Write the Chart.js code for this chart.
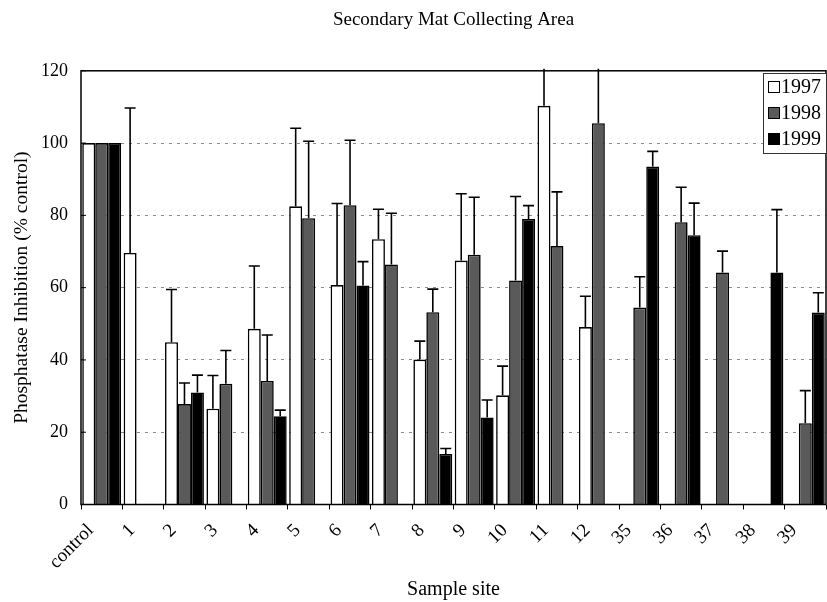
<!DOCTYPE html>
<html>
<head>
<meta charset="utf-8">
<title>Secondary Mat Collecting Area</title>
<script src="https://cdn.jsdelivr.net/npm/chart.js"></script>
<style>
  html, body { margin: 0; padding: 0; background: #fff; }
  #wrap { width: 827px; height: 602px; }
</style>
</head>
<body>
<div id="wrap"><canvas id="matChart" width="827" height="602"></canvas></div>
<script>
// sample sites and values (% of control)
const sites = ["control", "1", "2", "3", "4", "5", "6", "7", "8", "9", "10", "11", "12", "35", "36", "37", "38", "39"];
const years = ["1997", "1998", "1999"];

const v1997 = [100, 69.6, 44.9, 26.5, 48.6, 82.5, 60.7, 73.4, 40.1, 67.5, 30.2, 110.3, 49.1, null, null, null, null, null];
const e1997 = [0, 40.1, 14.6, 9.2, 17.4, 21.6, 22.6, 8.3, 5.1, 18.5, 8.1, 12, 8.5, 0, 0, 0, 0, 0];

const v1998 = [100, null, 27.8, 33.4, 34.2, 79.2, 82.8, 66.4, 53.2, 69.1, 62.0, 71.5, 105.5, 54.5, 78.1, 64.2, null, 22.5];
const e1998 = [0, 0, 5.8, 9.2, 12.7, 21.3, 18.0, 14.2, 6.4, 15.9, 23.2, 15.0, 16, 8.5, 9.7, 5.9, 0, 9.0];

const v1999 = [100, null, 31.0, null, 24.4, null, 60.6, null, 14.0, 24.1, 79.0, null, null, 93.5, 74.5, null, 64.2, 53.1];
const e1999 = [0, 0, 4.8, 0, 1.7, 0, 6.6, 0, 1.5, 4.8, 3.7, 0, 0, 4.2, 8.9, 0, 17.4, 5.5];

const yTicks = [0, 20, 40, 60, 80, 100, 120];

const serif = "'Liberation Serif', 'Times New Roman', serif";
const fills = ["#ffffff", "#5a5a5a", "#000000"];

// upward error bars with a cap
const errorBars = {
  id: "errorBars",
  afterDatasetsDraw(chart) {
    const ctx = chart.ctx;
    const area = chart.chartArea;
    const y = chart.scales.y;
    ctx.save();
    ctx.beginPath();
    ctx.rect(area.left, area.top - 2, area.right - area.left, area.bottom - area.top + 2);
    ctx.clip();
    ctx.strokeStyle = "#000";
    ctx.lineWidth = 1.6;
    chart.data.datasets.forEach((ds, i) => {
      const meta = chart.getDatasetMeta(i);
      meta.data.forEach((bar, j) => {
        const val = ds.data[j];
        const err = ds.errors[j];
        if (val == null || !err) return;
        const top = y.getPixelForValue(val + err);
        ctx.beginPath();
        ctx.moveTo(bar.x, bar.y);
        ctx.lineTo(bar.x, top);
        ctx.moveTo(bar.x - 5.5, top);
        ctx.lineTo(bar.x + 5.5, top);
        ctx.stroke();
      });
    });
    ctx.restore();
  }
};

// plot frame, small inner ticks on y, legend box
const frameAndLegend = {
  id: "frameAndLegend",
  afterDraw(chart) {
    const ctx = chart.ctx;
    const a = chart.chartArea;
    const y = chart.scales.y;
    ctx.save();
    ctx.strokeStyle = "#000";
    ctx.lineWidth = 1.5;
    ctx.strokeRect(a.left, a.top, a.right - a.left, a.bottom - a.top);
    ctx.lineWidth = 1;
    yTicks.forEach(t => {
      const py = y.getPixelForValue(t);
      ctx.beginPath();
      ctx.moveTo(a.left, py);
      ctx.lineTo(a.left + 5, py);
      ctx.stroke();
    });

    // legend
    const lx = 763, ly = 73, lw = 63, lh = 80;
    ctx.fillStyle = "#fff";
    ctx.fillRect(lx, ly, lw, lh);
    ctx.strokeStyle = "#333";
    ctx.lineWidth = 1;
    ctx.strokeRect(lx + 0.5, ly + 0.5, lw, lh);
    ctx.font = "20px " + serif;
    ctx.textBaseline = "middle";
    chart.data.datasets.forEach((ds, i) => {
      const cy = ly + 14 + i * 26;
      ctx.fillStyle = ds.backgroundColor;
      ctx.fillRect(lx + 5, cy - 6, 12, 12);
      ctx.strokeStyle = "#000";
      ctx.strokeRect(lx + 5.5, cy - 5.5, 11, 11);
      ctx.fillStyle = "#000";
      ctx.fillText(ds.label, lx + 18, cy + 1);
    });
    ctx.restore();
  }
};

const datasets = [v1997, v1998, v1999].map((vals, i) => ({
  label: years[i],
  data: vals,
  errors: [e1997, e1998, e1999][i],
  backgroundColor: fills[i],
  borderColor: "#000",
  borderWidth: 1.6,
  borderSkipped: "bottom",
  categoryPercentage: 0.94,
  barPercentage: 1.0
}));

new Chart(document.getElementById("matChart"), {
  type: "bar",
  data: { labels: sites, datasets: datasets },
  plugins: [errorBars, frameAndLegend],
  options: {
    responsive: false,
    animation: false,
    devicePixelRatio: 1,
    layout: { padding: { left: 0, right: 1, top: 0, bottom: 0 } },
    plugins: {
      legend: { display: false },
      tooltip: { enabled: false },
      title: {
        display: true,
        fullSize: false,
        text: "Secondary Mat Collecting Area",
        color: "#000",
        font: { family: serif, size: 19, weight: "normal" },
        padding: { top: 9, bottom: 39 }
      }
    },
    scales: {
      x: {
        grid: { offset: true, drawOnChartArea: false, drawTicks: true, tickLength: 5, color: "#000", lineWidth: 1 },
        border: { display: false },
        ticks: {
          color: "#000",
          font: { family: serif, size: 19 },
          minRotation: 45,
          maxRotation: 45,
          autoSkip: false,
          labelOffset: -11,
          padding: 10
        },
        title: {
          display: true,
          text: "Sample site",
          color: "#000",
          font: { family: serif, size: 20 },
          padding: { top: 0, bottom: 0 }
        },
        afterFit(scale) {
          scale.height = 97.5;
          scale.paddingLeft = 0;
          scale.paddingRight = 0;
        }
      },
      y: {
        min: 0,
        max: 120,
        afterBuildTicks(scale) { scale.ticks = yTicks.map(v => ({ value: v })); },
        grid: {
          drawTicks: false,
          lineWidth: 1,
          color: ctx => (ctx.tick && (ctx.tick.value === 0 || ctx.tick.value === 120)) ? "rgba(0,0,0,0)" : "#8a8a8a"
        },
        border: { display: false, dash: [3, 5] },
        ticks: {
          color: "#000",
          font: { family: serif, size: 18 },
          padding: 13
        },
        title: {
          display: true,
          text: "Phosphatase Inhibition (% control)",
          color: "#000",
          font: { family: serif, size: 19.5 },
          padding: { top: 10, bottom: 0 }
        },
        afterFit(scale) { scale.width = 81; }
      }
    }
  }
});
</script>
</body>
</html>
